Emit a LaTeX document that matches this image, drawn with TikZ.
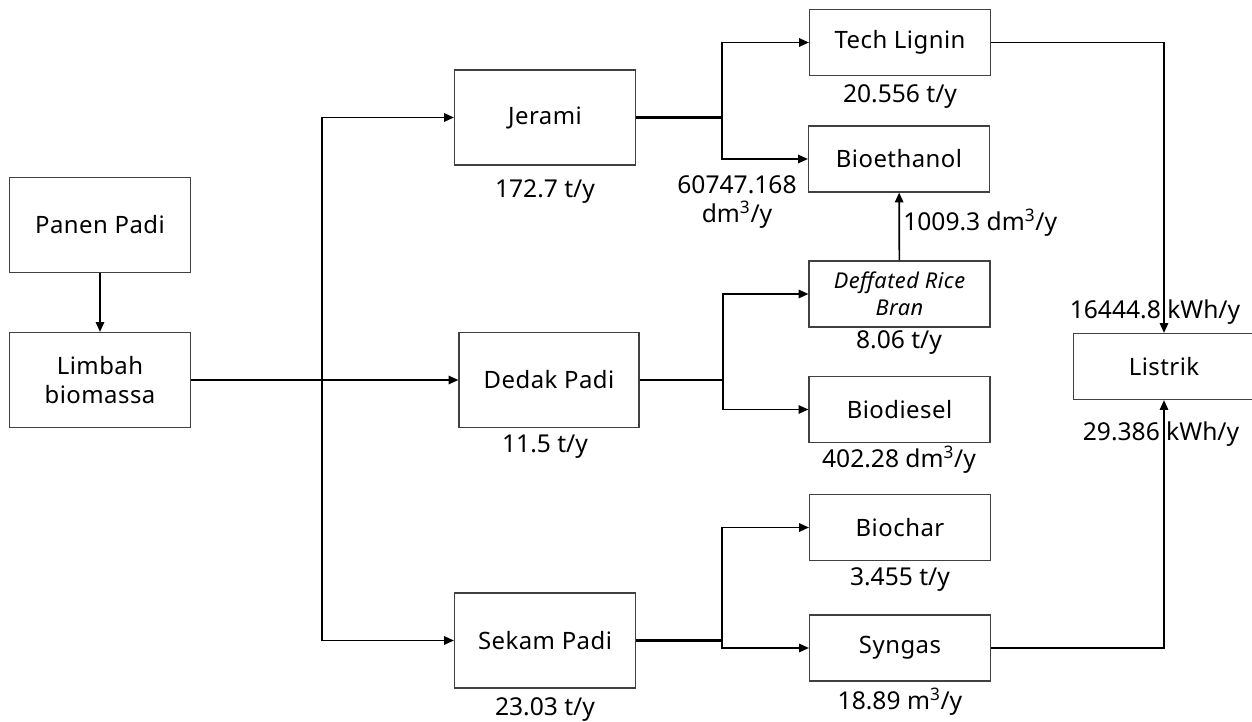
\documentclass[tikz,border=0pt]{standalone}
\usepackage{fontspec}
\setmainfont{Noto Sans}
\usetikzlibrary{arrows.meta}

\tikzset{
  box/.style={draw=black!75, line width=0.8pt, minimum width=4.525cm, align=center, inner sep=2pt, font=\fontsize{17}{21}\selectfont\addfontfeature{LetterSpace=2}},
  bigbox/.style={box, minimum height=2.375cm},
  smallbox/.style={box, minimum height=1.65cm},
  qty/.style={draw=none, align=center, inner sep=0pt, font=\fontsize{17.5}{21}\selectfont},
  flow/.style={line width=1.2pt, -{Triangle[length=7pt,width=6pt]}},
  trunk/.style={line width=1.7pt}
}

\begin{document}
\begin{tikzpicture}[x=0.025cm, y=-0.025cm]
    \useasboundingbox (0,0) rectangle (1252,722);

    \node[bigbox] (panen) at (100,225) {Panen Padi};
    \node[bigbox] (limbah) at (100,380) {Limbah\\biomassa};

    \node[bigbox] (jerami) at (545,117.5) {Jerami};
    \node[bigbox, minimum width=4.5cm] (dedak) at (549,380) {Dedak Padi};
    \node[bigbox] (sekam) at (545,640.5) {Sekam Padi};

    \node[smallbox] (lignin) at (900,42.5) {Tech Lignin};
    \node[smallbox] (etanol) at (899,159) {Bioethanol};
    \node[smallbox, font=\fontsize{15.5}{19}\selectfont\itshape\addfontfeature{LetterSpace=2}] (bran) at (899.5,294) {Deffated Rice\\Bran};
    \node[smallbox] (diesel) at (899.5,409.5) {Biodiesel};
    \node[smallbox] (arang) at (900,527.5) {Biochar};
    \node[smallbox] (syngas) at (900,648) {Syngas};
    \node[smallbox] (listrik) at (1164,366.5) {Listrik};

    \coordinate (bagi) at (322,380);
    \coordinate (bagijerami) at (722,117.5);
    \coordinate (bagidedak) at (723,380);
    \coordinate (bagisekam) at (722,640.5);

    \draw[flow] (panen) -- (limbah);
    \draw[trunk] (limbah) -- (bagi);
    \draw[flow] (bagi) |- (jerami);
    \draw[flow] (bagi) -- (dedak);
    \draw[flow] (bagi) |- (sekam);

    \draw[trunk] (jerami) -- (bagijerami);
    \draw[flow] (bagijerami) |- (lignin);
    \draw[flow] (bagijerami) |- (etanol);

    \draw[trunk] (dedak) -- (bagidedak);
    \draw[flow] (bagidedak) |- (bran);
    \draw[flow] (bagidedak) |- (diesel);

    \draw[trunk] (sekam) -- (bagisekam);
    \draw[flow] (bagisekam) |- (arang);
    \draw[flow] (bagisekam) |- (syngas);

    \draw[flow] (bran) -- (etanol);
    \draw[flow] (lignin) -| (listrik);
    \draw[flow] (syngas) -| (listrik);

    \node[qty] (qjerami) at (545,192) {172.7 t/y};
    \node[qty] (qetanol) at (737,202) {60747.168\\dm\textsuperscript{3}/y};
    \node[qty] (qlignin) at (900,97) {20.556 t/y};
    \node[qty, anchor=west] (qbran) at (903,223) {1009.3 dm\textsuperscript{3}/y};
    \node[qty] (qbranmassa) at (899,343) {8.06 t/y};
    \node[qty] (qdedak) at (545,447) {11.5 t/y};
    \node[qty] (qdiesel) at (899,460) {402.28 dm\textsuperscript{3}/y};
    \node[qty] (qarang) at (900,580) {3.455 t/y};
    \node[qty] (qsekam) at (545,710) {23.03 t/y};
    \node[qty] (qsyngas) at (900,702) {18.89 m\textsuperscript{3}/y};
    \node[qty] (qlistrikatas) at (1155,312) {16444.8 kWh/y};
    \node[qty] (qlistrikbawah) at (1161,434) {29.386 kWh/y};

\end{tikzpicture}
\end{document}
